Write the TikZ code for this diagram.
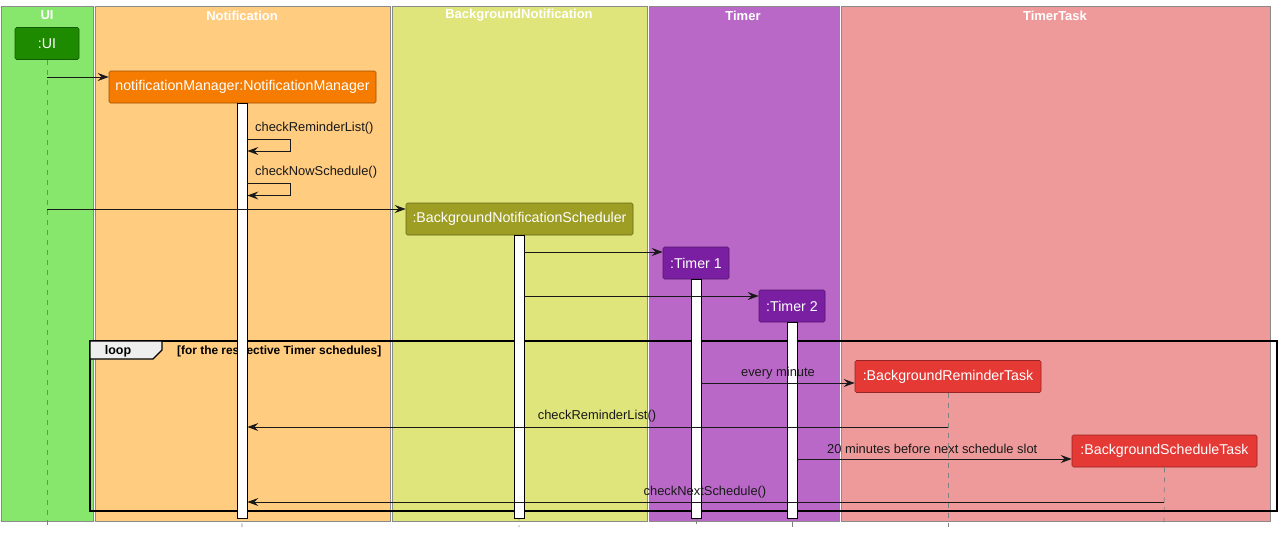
\documentclass[tikz,border=0pt]{standalone}
\usepackage{fontspec}
\setmainfont{Liberation Sans}
\usetikzlibrary{arrows.meta}
\definecolor{laneUI}{HTML}{86E76C}
\definecolor{laneNT}{HTML}{FFCC80}
\definecolor{laneBN}{HTML}{DFE57A}
\definecolor{laneTM}{HTML}{BA68C8}
\definecolor{laneTT}{HTML}{EF9A9A}
\definecolor{pUI}{HTML}{1E8A00}
\definecolor{pNT}{HTML}{F57C00}
\definecolor{pBN}{HTML}{9E9D24}
\definecolor{pTM}{HTML}{7B1FA2}
\definecolor{pTT}{HTML}{E53935}
\definecolor{lanegray}{HTML}{8A8A8A}
\definecolor{tabgray}{HTML}{EEEEEE}
\tikzset{
  lane/.style={draw=lanegray, line width=0.9pt},
  lanetitle/.style={text=white, font=\fontsize{13}{15}\selectfont\bfseries, inner sep=0pt},
  part/.style={draw=#1!65!black, fill=#1, rounded corners=1.5pt, text=white, line width=0.6pt,
     font=\fontsize{14.2}{17}\selectfont, minimum height=32pt, inner sep=0pt},
  lifeline/.style={draw=gray, dash pattern=on 5pt off 5pt, line width=0.7pt},
  actbar/.style={draw=black, fill=white, line width=0.8pt, minimum width=10pt, inner sep=0pt},
  msg/.style={draw=black!90, line width=0.9pt, -{Stealth[length=11pt,width=8pt,inset=4pt]}},
  msgl/.style={font=\fontsize{12.9}{15}\selectfont, inner sep=0pt, text=black!90},
  frame/.style={draw=black, line width=1.5pt},
}
\begin{document}
\begin{tikzpicture}[x=1pt,y=-1pt]
\useasboundingbox (0,0) rectangle (1280,533);
% lanes
\draw[lane, fill=laneUI] (1.5,6) rectangle (93,521);
\draw[lane, fill=laneNT] (95,6) rectangle (390,521);
\draw[lane, fill=laneBN] (392,6) rectangle (647,521);
\draw[lane, fill=laneTM] (649,6) rectangle (839,521);
\draw[lane, fill=laneTT] (841,6) rectangle (1270,521);
\node[lanetitle] (tUI) at (47,15.5) {UI};
\node[lanetitle] (tNT) at (242,15.5) {Notification};
\node[lanetitle] (tBN) at (519,15.5) {BackgroundNotification};
\node[lanetitle] (tTM) at (743,15.5) {Timer};
\node[lanetitle] (tTT) at (1055,15.5) {TimerTask};

% participants
\node[part=pUI, minimum width=64pt] (ui) at (47,43.5) {:UI};
\node[part=pNT, minimum width=267pt] (nm) at (242.5,87) {notificationManager:NotificationManager};
\node[part=pBN, minimum width=227pt] (bns) at (519.5,219) {:BackgroundNotificationScheduler};
\node[part=pTM, minimum width=66pt] (t1) at (696,263) {:Timer 1};
\node[part=pTM, minimum width=66pt] (t2) at (792,306) {:Timer 2};
\node[part=pTT, minimum width=186pt] (brt) at (948,376.5) {:BackgroundReminderTask};
\node[part=pTT, minimum width=185pt] (bst) at (1164.5,451) {:BackgroundScheduleTask};

% lifelines
\coordinate (uiE) at (47,527);
\coordinate (nmE) at (242,527);
\coordinate (bnsE) at (519,527);
\coordinate (t1E) at (696,527);
\coordinate (t2E) at (792,527);
\coordinate (brtE) at (948,527);
\coordinate (bstE) at (1164,527);
\draw[lifeline] (ui.south) -- (uiE);
\draw[lifeline] (nm.south) -- (nmE);
\draw[lifeline] (bns.south) -- (bnsE);
\draw[lifeline] (t1.south) -- (t1E);
\draw[lifeline] (t2.south) -- (t2E);
\draw[lifeline] (brt.south) -- (brtE);
\draw[lifeline] (bst.south) -- (bstE);

% loop frame
\draw[frame] (90,341) rectangle (1277,511);
\draw[line width=1.2pt, fill=tabgray] (90,341) -- (162,341) -- (162,350) -- (153,359) -- (90,359) -- cycle;
\node[font=\fontsize{12.5}{14}\selectfont\bfseries, inner sep=0pt] (looplbl) at (118,351.5) {loop};
\node[font=\fontsize{11.9}{13}\selectfont\bfseries, inner sep=0pt, anchor=west] (guard) at (177,351) {[for the respective Timer schedules]};

% activation bars
\node[actbar, anchor=north, minimum height=415pt] (nmA) at (242,103) {};
\node[actbar, anchor=north, minimum height=283pt] (bnsA) at (519,235) {};
\node[actbar, anchor=north, minimum height=239pt] (t1A) at (696,279) {};
\node[actbar, anchor=north, minimum height=196pt] (t2A) at (792,322) {};

% messages
\coordinate (m1) at (47,77);
\draw[msg] (m1) -- (m1 -| nm.west);

\coordinate (s1a) at (247,139);
\coordinate (s1b) at (290,139);
\coordinate (s1c) at (290,151);
\draw[msg] (s1a) -- (s1b) -- (s1c) -- (s1c -| nmA.east);
\node[msgl, anchor=west] (s1l) at (255,128) {checkReminderList()};

\coordinate (s2a) at (247,183);
\coordinate (s2b) at (290,183);
\coordinate (s2c) at (290,195.5);
\draw[msg] (s2a) -- (s2b) -- (s2c) -- (s2c -| nmA.east);
\node[msgl, anchor=west] (s2l) at (255,172) {checkNowSchedule()};

\coordinate (m2) at (47,209);
\draw[msg] (m2) -- (m2 -| bns.west);

\coordinate (m3) at (524,252);
\draw[msg] (m3) -- (m3 -| t1.west);

\coordinate (m4) at (524,296);
\draw[msg] (m4) -- (m4 -| t2.west);

\coordinate (m5) at (701,383);
\draw[msg] (m5) -- (m5 -| brt.west);
\node[msgl] (m5l) at (778,373) {every minute};

\coordinate (m6) at (948,427);
\draw[msg] (m6) -- (m6 -| nmA.east);
\node[msgl] (m6l) at (597,416) {checkReminderList()};

\coordinate (m7) at (797,459);
\draw[msg] (m7) -- (m7 -| bst.west);
\node[msgl, anchor=west] (m7l) at (827,449) {20 minutes before next schedule slot};

\coordinate (m8) at (1164,502);
\draw[msg] (m8) -- (m8 -| nmA.east);
\node[msgl] (m8l) at (705,492) {checkNextSchedule()};
\end{tikzpicture}
\end{document}
